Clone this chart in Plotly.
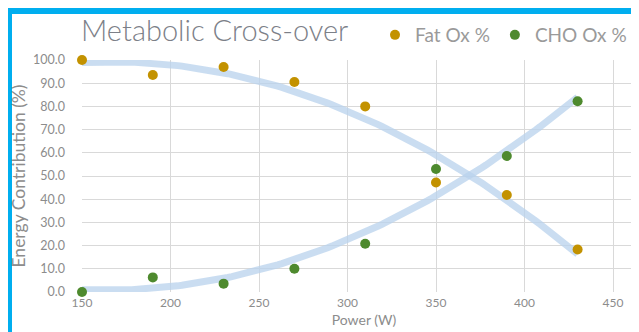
import numpy as np
import plotly.graph_objects as go

power = [150, 190, 230, 270, 310, 350, 390, 430]
fat_ox = [100.0, 93.5, 97.0, 90.5, 80.0, 47.2, 41.8, 18.3]
cho_ox = [0.0, 6.3, 3.6, 10.0, 20.8, 53.0, 58.6, 82.2]
x_ticks = [150, 200, 250, 300, 350, 400, 450]
y_ticks = [0, 10, 20, 30, 40, 50, 60, 70, 80, 90, 100]

W, H = 639, 332
ml, mr, mt, mb = 74, 1, 52, 48
pw, ph = W - ml - mr, H - mt - mb

# polynomial trend lines (as Excel "Poly 2" trendline) derived from the data
xt = np.linspace(min(power), max(power), 120)
fat_fit = np.polyval(np.polyfit(power, fat_ox, 2), xt)
cho_fit = np.polyval(np.polyfit(power, cho_ox, 2), xt)

trend_color = "rgba(184,210,236,0.75)"
fig = go.Figure()
fig.add_trace(go.Scatter(x=xt, y=fat_fit, mode="lines", line=dict(color=trend_color, width=7),
                         showlegend=False, hoverinfo="skip"))
fig.add_trace(go.Scatter(x=xt, y=cho_fit, mode="lines", line=dict(color=trend_color, width=7),
                         showlegend=False, hoverinfo="skip"))
fig.add_trace(go.Scatter(x=power, y=fat_ox, mode="markers", name="Fat Ox %",
                         marker=dict(color="#C39200", size=10)))
fig.add_trace(go.Scatter(x=power, y=cho_ox, mode="markers", name="CHO Ox %",
                         marker=dict(color="#4E8A2E", size=10)))

def px_x(p):
    return (p - ml) / pw

def px_y(p):
    return (H - mb - p) / ph

fig.update_layout(
    width=W, height=H,
    margin=dict(l=ml, r=mr, t=mt, b=mb),
    paper_bgcolor="white", plot_bgcolor="white",
    font=dict(family="Lato", color="#8c8c8c"),
    title=dict(text="Metabolic Cross-over", x=73 / W, xanchor="left", y=1 - 23 / H, yanchor="middle",
               font=dict(size=29, color="#7c8088", family="Lato", weight=300)),
    legend=dict(orientation="h", x=px_x(367), xanchor="left", y=px_y(27), yanchor="middle",
                font=dict(size=19, color="#9a9a9a", family="Lato"), bgcolor="rgba(0,0,0,0)",
                itemwidth=30, tracegroupgap=0),
    xaxis=dict(range=[150, 150 + pw / (88.5 / 50)], tickvals=x_ticks, showgrid=True,
               gridcolor="#d9d9d9", gridwidth=1, zeroline=False, showline=False,
               tickfont=dict(size=12, color="#8c8c8c"), ticks="", ticklabelstandoff=2,
               title=dict(text="Power (W)", font=dict(size=14, color="#8c8c8c"), standoff=6)),
    yaxis=dict(range=[0, 100], tickvals=y_ticks, tickformat=".1f", showgrid=True,
               gridcolor="#d9d9d9", gridwidth=1, zeroline=False, showline=False,
               tickfont=dict(size=12.5, color="#8c8c8c"), ticks="", ticklabelstandoff=16,
               title=dict(text="Energy Contribution (%)", font=dict(size=17.5, color="#8c8c8c"), standoff=4)),
    shapes=[
        dict(type="rect", xref="paper", yref="paper", x0=px_x(0), x1=px_x(4), y0=px_y(H), y1=px_y(0),
             fillcolor="#00AEEF", line=dict(width=0), layer="above"),
        dict(type="rect", xref="paper", yref="paper", x0=px_x(0), x1=px_x(W), y0=px_y(6), y1=px_y(0),
             fillcolor="#00AEEF", line=dict(width=0), layer="above"),
    ],
)
fig.update_traces(cliponaxis=False, selector=dict(mode="markers"))
fig.write_html("out.html")
